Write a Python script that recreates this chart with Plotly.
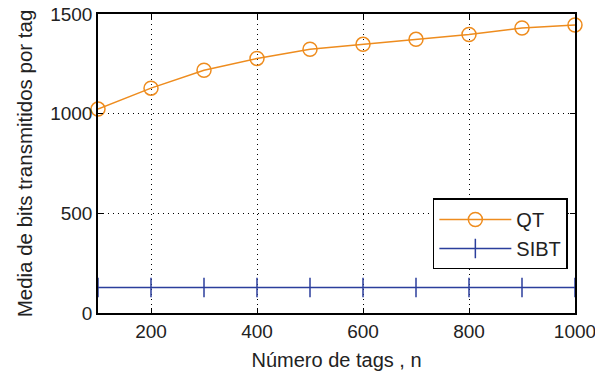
import plotly.graph_objects as go

n_tags = [100, 200, 300, 400, 500, 600, 700, 800, 900, 1000]
qt_bits = [1023, 1128, 1218, 1277, 1323, 1348, 1373, 1397, 1430, 1445]
sibt_bits = [128, 128, 128, 128, 128, 128, 128, 128, 128, 128]

x_ticks = [200, 400, 600, 800, 1000]
y_ticks = [0, 500, 1000, 1500]

FONT = "Liberation Sans, Arial, sans-serif"
ORANGE = "#EE8C1E"
BLUE = "#2B3E9C"

fig = go.Figure()
fig.add_trace(go.Scatter(
    x=n_tags, y=qt_bits, name="QT", mode="lines+markers",
    line=dict(color=ORANGE, width=1.5),
    marker=dict(symbol="circle-open", size=14, color=ORANGE, line=dict(width=1.5)),
    cliponaxis=False,
))
fig.add_trace(go.Scatter(
    x=n_tags, y=sibt_bits, name="SIBT", mode="lines+markers",
    line=dict(color=BLUE, width=1.5),
    marker=dict(symbol="line-ns", size=14, color=BLUE, line=dict(width=1.5, color=BLUE)),
    cliponaxis=False,
))

axis_common = dict(
    showline=True, linecolor="black", linewidth=1.5, mirror="ticks",
    ticks="inside", ticklen=5, tickcolor="black", tickwidth=1,
    showgrid=True, gridcolor="black", griddash="1px,4px", gridwidth=1.2,
    zeroline=False, automargin=False, ticklabeloverflow="allow",
    tickfont=dict(family=FONT, size=19, color="#222"),
)

fig.update_layout(
    width=595, height=376,
    margin=dict(l=98, r=20, t=14, b=63),
    paper_bgcolor="white", plot_bgcolor="white",
    font=dict(family=FONT, size=19, color="#222"),
    showlegend=True,
    legend=dict(
        x=0.702, y=0.383, xanchor="left", yanchor="top",
        bgcolor="white", bordercolor="black", borderwidth=1.5,
        font=dict(family=FONT, size=20, color="#222"),
        itemwidth=72, tracegroupgap=2,
    ),
    xaxis=dict(range=[99.99, 1000.01], tickvals=x_ticks,
               title=dict(text="Número de tags , n", standoff=12,
                          font=dict(family=FONT, size=20)),
               **axis_common),
    yaxis=dict(range=[0, 1500.01], tickvals=y_ticks,
               title=dict(text="Media de bits transmitidos por tag", standoff=12,
                          font=dict(family=FONT, size=20.5)),
               **axis_common),
)

fig.write_html("out.html", config={"displayModeBar": False},
               post_script="document.body.style.margin='0';document.body.style.overflow='hidden';")
